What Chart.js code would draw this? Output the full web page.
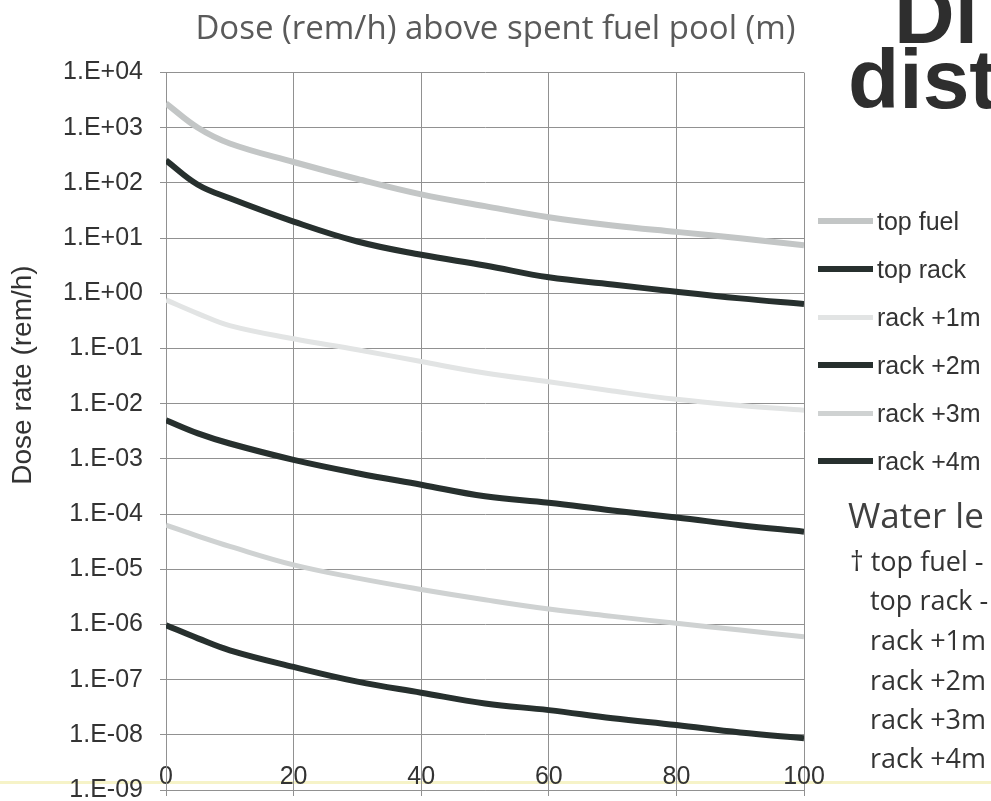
<!DOCTYPE html>
<html>
<head>
<meta charset="utf-8">
<script src="https://cdn.jsdelivr.net/npm/chart.js@4.4.1/dist/chart.umd.min.js"></script>
<style>
  html, body { margin: 0; padding: 0; background: #fff; overflow: hidden; }
  #page { position: relative; width: 991px; height: 801px; overflow: hidden; }
  #wrap { position: absolute; left: 0; top: 0; width: 991px; height: 822px; }
  .band { position: absolute; left: 0; top: 781px; width: 991px; height: 3px; background: #f6f3c8; }
  .legend { position: absolute; left: 818px; top: 0; font-family: 'Liberation Sans', Arial, sans-serif; font-size: 25px; color: #333; }
  .legend .row { position: absolute; left: 0; height: 30px; display: flex; align-items: center; white-space: nowrap; }
  .legend .swatch { width: 55px; margin-right: 4px; }
  .side { position: absolute; white-space: nowrap; line-height: 1; }
  .heading { font-family: 'Liberation Sans', Arial, sans-serif; font-weight: bold; font-size: 84px; color: #2e2e2e; }
  .water { font-family: 'Open Sans', sans-serif; font-size: 35px; color: #404040; }
  .levels { font-family: 'Open Sans', sans-serif; font-size: 27px; color: #333; }
</style>
</head>
<body>
<div id="page">
  <div class="band"></div>
  <div id="wrap"><canvas id="doseChart"></canvas></div>
  <div class="legend" id="legend"></div>
  <div class="side heading" style="left:894px; top:-28px;">Di</div>
  <div class="side heading" style="left:848px; top:37px;">dist</div>
  <div class="side water" style="left:848px; top:497px;">Water le</div>
  <div class="side levels" style="left:850px; top:547px;">&dagger; top fuel -</div>
  <div class="side levels" style="left:870px; top:586px;">top rack -</div>
  <div class="side levels" style="left:870px; top:626px;">rack +1m</div>
  <div class="side levels" style="left:870px; top:666px;">rack +2m</div>
  <div class="side levels" style="left:870px; top:705px;">rack +3m</div>
  <div class="side levels" style="left:870px; top:744px;">rack +4m</div>
</div>
<script>
// distance above the pool (m)
const distance = [0, 5, 10, 20, 30, 40, 50, 60, 70, 80, 90, 100];

// dose rate (rem/h) for each water level
const topFuel = [2770, 1000, 520, 240, 118, 62, 38, 24, 17, 13, 10, 7.4];
const topRack = [257, 93, 53, 20, 8.7, 5.0, 3.2, 1.95, 1.45, 1.07, 0.81, 0.64];
const rack1m = [0.76, 0.43, 0.26, 0.15, 0.095, 0.058, 0.036, 0.025, 0.017, 0.012, 0.0093, 0.0076];
const rack2m = [0.005, 0.0029, 0.0019, 0.00096, 0.00055, 0.00034, 0.00021, 0.00016, 0.000116, 0.000087, 0.000063, 0.000048];
const rack3m = [6.3e-5, 4.0e-5, 2.6e-5, 1.2e-5, 6.9e-6, 4.3e-6, 2.8e-6, 1.9e-6, 1.4e-6, 1.05e-6, 7.9e-7, 6.0e-7];
const rack4m = [9.7e-7, 5.6e-7, 3.4e-7, 1.7e-7, 9.2e-8, 5.8e-8, 3.7e-8, 2.8e-8, 2.0e-8, 1.5e-8, 1.1e-8, 8.7e-9];

const seriesNames = ['top fuel', 'top rack', 'rack +1m', 'rack +2m', 'rack +3m', 'rack +4m'];

const xTicks = [0, 20, 40, 60, 80, 100];
const yTicks = [1e-9, 1e-8, 1e-7, 1e-6, 1e-5, 1e-4, 1e-3, 1e-2, 1e-1, 1e0, 1e1, 1e2, 1e3, 1e4];
const yTickLabels = ['1.E-09', '1.E-08', '1.E-07', '1.E-06', '1.E-05', '1.E-04', '1.E-03',
                     '1.E-02', '1.E-01', '1.E+00', '1.E+01', '1.E+02', '1.E+03', '1.E+04'];

const LIGHT = '#c3c6c6';
const PALE = '#e2e4e4';
const MID = '#cfd2d2';
const DARK = '#27302e';
const GRID = '#919191';

function points(values) {
    return values.map((v, i) => ({ x: distance[i], y: v }));
}

function series(i, values, color, width) {
    return {
        label: seriesNames[i],
        data: points(values),
        borderColor: color,
        backgroundColor: color,
        borderWidth: width,
        pointRadius: 0,
        tension: 0.4,
        fill: false
    };
}

// rotated y axis caption, placed beside the tick labels
const yCaption = {
    id: 'yCaption',
    afterDraw(chart, args, opts) {
        const c = chart.ctx;
        c.save();
        c.translate(opts.x, opts.y);
        c.rotate(-Math.PI / 2);
        c.font = opts.font;
        c.fillStyle = opts.color;
        c.textAlign = 'center';
        c.textBaseline = 'middle';
        c.fillText(opts.text, 0, 0);
        c.restore();
    }
};

Chart.defaults.font.family = "'Liberation Sans', Arial, sans-serif";
Chart.defaults.color = '#333';

const ctx = document.getElementById('doseChart').getContext('2d');
const chart = new Chart(ctx, {
    type: 'line',
    data: {
        datasets: [
            series(0, topFuel, LIGHT, 6),
            series(1, topRack, DARK, 6),
            series(2, rack1m, PALE, 5),
            series(3, rack2m, DARK, 6),
            series(4, rack3m, MID, 5),
            series(5, rack4m, DARK, 6)
        ]
    },
    plugins: [yCaption],
    options: {
        responsive: true,
        maintainAspectRatio: false,
        animation: false,
        layout: { padding: 0 },
        plugins: {
            legend: { display: false },
            tooltip: { enabled: false },
            title: {
                display: true,
                text: 'Dose (rem/h) above spent fuel pool (m)',
                color: '#5a5a5a',
                font: { family: "'Open Sans', sans-serif", size: 33, weight: 'normal', lineHeight: 1.2 },
                padding: { top: 10, bottom: 23 }
            },
            yCaption: {
                text: 'Dose rate (rem/h)',
                font: "28px 'Liberation Sans', Arial, sans-serif",
                color: '#333',
                x: 23,
                y: 375
            }
        },
        scales: {
            x: {
                type: 'linear',
                min: 0,
                max: 100,
                afterBuildTicks: (scale) => { scale.ticks = xTicks.map(v => ({ value: v })); },
                afterFit: (scale) => { scale.height = 11; },
                // labels sit just above the bottom gridline
                ticks: { mirror: true, padding: -2, font: { size: 25 }, color: '#333', maxRotation: 0 },
                grid: { color: GRID, lineWidth: 1, tickLength: 6 },
                border: { color: GRID }
            },
            y: {
                type: 'logarithmic',
                min: 1e-9,
                max: 1e4,
                afterBuildTicks: (scale) => { scale.ticks = yTicks.map(v => ({ value: v })); },
                afterFit: (scale) => { scale.width = 166; },
                ticks: {
                    padding: 17,
                    font: { size: 25 },
                    color: '#333',
                    autoSkip: false,
                    callback: (value, index) => yTickLabels[index]
                },
                grid: { color: GRID, lineWidth: 1, tickLength: 6 },
                border: { color: GRID }
            },
            // empty strip on the right that holds the legend
            side: {
                type: 'linear',
                position: 'right',
                display: true,
                afterFit: (scale) => { scale.width = 187; },
                ticks: { display: false },
                grid: { display: false },
                border: { display: false }
            }
        }
    }
});

// legend on the right, built from the datasets
const legend = document.getElementById('legend');
const rowCenters = [221, 269, 317, 365, 413, 461];
chart.data.datasets.forEach((ds, i) => {
    const row = document.createElement('div');
    row.className = 'row';
    row.style.top = (rowCenters[i] - 15) + 'px';
    const sw = document.createElement('span');
    sw.className = 'swatch';
    sw.style.height = ds.borderWidth + 'px';
    sw.style.background = ds.borderColor;
    const txt = document.createElement('span');
    txt.textContent = ds.label;
    row.appendChild(sw);
    row.appendChild(txt);
    legend.appendChild(row);
});
</script>
</body>
</html>
